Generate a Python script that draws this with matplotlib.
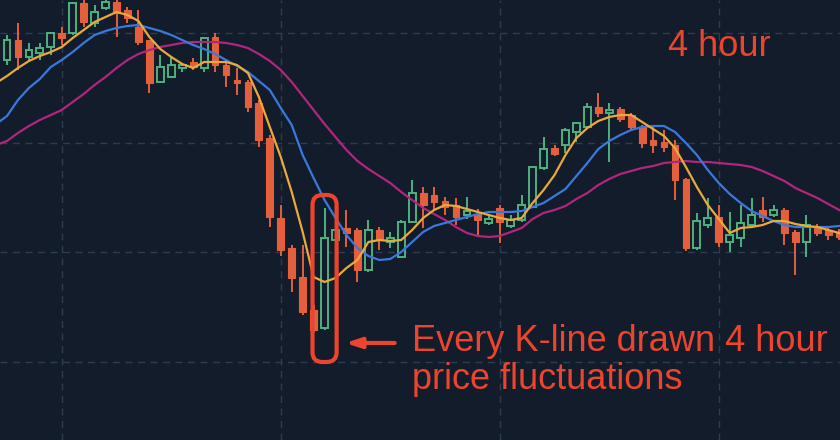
import matplotlib.pyplot as plt
from matplotlib.patches import FancyBboxPatch

# 4 hour candles, oldest first (index -1 is cut off at the left edge)
opens = [435, 440, 460, 443, 447, 453, 467, 467, 497, 477, 492, 498, 490, 473, 460, 418, 423, 432, 438, 432,
         463, 435, 420, 418, 397, 362, 282, 252, 223, 190, 172, 260, 272, 270, 230, 270, 258, 243, 278, 307,
         305, 299, 295, 285, 286, 277, 292, 274, 280, 293, 332, 352, 355, 368, 373, 393, 387, 391, 385, 373,
         360, 358, 355, 321, 252, 275, 283, 258, 262, 275, 290, 285, 290, 268, 258, 273, 270, 268]
closes = [450, 460, 443, 450, 452, 467, 462, 497, 478, 488, 498, 487, 482, 458, 417, 433, 435, 435, 433, 462,
          435, 425, 417, 393, 360, 283, 250, 222, 188, 170, 262, 270, 267, 230, 270, 260, 262, 278, 307, 295,
          298, 293, 283, 289, 280, 281, 278, 280, 295, 333, 351, 346, 370, 377, 393, 387, 390, 381, 373, 357,
          355, 353, 320, 252, 279, 282, 258, 265, 277, 285, 283, 290, 267, 258, 275, 267, 265, 263]
highs = [452, 465, 477, 457, 457, 468, 473, 498, 500, 495, 500, 500, 493, 490, 460, 445, 443, 437, 442, 463,
         467, 437, 432, 420, 400, 365, 295, 255, 255, 195, 292, 275, 290, 272, 280, 273, 268, 280, 320, 313,
         313, 303, 302, 303, 291, 284, 295, 285, 305, 334, 363, 355, 372, 378, 397, 407, 397, 393, 387, 375,
         374, 370, 360, 322, 287, 302, 295, 288, 295, 302, 303, 295, 292, 270, 285, 276, 272, 271]
lows = [432, 435, 430, 438, 440, 445, 455, 465, 473, 473, 490, 463, 477, 455, 407, 417, 422, 428, 430, 428,
        428, 413, 405, 388, 353, 273, 244, 208, 185, 168, 170, 252, 253, 218, 228, 250, 252, 242, 277, 272,
        290, 285, 275, 281, 265, 275, 257, 272, 278, 292, 330, 344, 347, 358, 372, 383, 338, 378, 370, 352,
        347, 348, 300, 249, 250, 272, 253, 248, 253, 272, 278, 283, 255, 225, 243, 264, 260, 260]

# moving averages at each candle
ma_fast = [417, 424, 432, 439, 444, 448, 453, 462, 470, 478, 483, 488, 485, 479, 463, 451, 443, 436, 432, 438,
           438, 438, 435, 427, 403, 373, 343, 308, 268, 223, 218, 222, 232, 240, 258, 260, 259, 260, 270, 282,
           290, 295, 294, 291, 288, 285, 282, 280, 282, 297, 310, 325, 345, 362, 372, 379, 383, 385, 385, 378,
           371, 364, 352, 333, 313, 295, 281, 267, 272, 273, 275, 279, 279, 276, 274, 273, 270, 267]
ma_mid = [376, 384, 400, 412, 421, 433, 440, 448, 457, 465, 469, 472, 474, 475, 472, 469, 465, 460, 455, 451,
          446, 440, 434, 428, 419, 410, 392, 375, 345, 322, 300, 282, 265, 252, 244, 240, 241, 248, 258, 268,
          274, 277, 280, 283, 286, 288, 288, 288, 289, 293, 297, 304, 311, 324, 337, 351, 359, 365, 370, 373,
          374, 374, 368, 357, 345, 330, 317, 306, 297, 289, 284, 279, 275, 273, 273, 273, 273, 274]
ma_slow = [355, 359, 367, 374, 380, 385, 390, 398, 406, 415, 423, 432, 440, 446, 450, 453, 455, 457, 458, 458,
           458, 457, 455, 452, 446, 439, 430, 418, 404, 390, 376, 363, 350, 339, 331, 324, 317, 308, 300, 292,
           286, 280, 273, 267, 264, 263, 264, 268, 272, 281, 287, 290, 294, 301, 307, 315, 321, 326, 329, 332,
           334, 337, 338, 339, 338, 338, 337, 336, 335, 333, 329, 324, 319, 312, 307, 302, 296, 290]

idx = list(range(-1, len(opens) - 1))
marked = 29  # the candle inside the red box

bg = '#131c2b'
up = '#4db27f'
down = '#e4603c'
note = '#ec452d'

fig = plt.figure(figsize=(8.4, 4.4), dpi=100, facecolor=bg)
ax = fig.add_axes([0, 0, 1, 1])
ax.set_facecolor(bg)

for i, o, c, h, l in zip(idx, opens, closes, highs, lows):
    col = up if c >= o else down
    ax.vlines(i, l, h, color=col, linewidth=1.4, zorder=2)
    if c >= o:
        ax.bar(i, c - o, bottom=o, width=0.62, facecolor=bg, edgecolor=col, linewidth=1.4, zorder=3)
    else:
        ax.bar(i, o - c, bottom=c, width=0.62, facecolor=col, edgecolor=col, linewidth=0.8, zorder=3)

ax.plot(idx, ma_slow, color='#b0267e', linewidth=1.6, zorder=4)
ax.plot(idx, ma_mid, color='#3b78dc', linewidth=1.6, zorder=4)
ax.plot(idx, ma_fast, color='#eaa93b', linewidth=1.6, zorder=4)

ax.set_xlim(-0.64, 76.07)
ax.set_ylim(60, 500)
ax.set_xticks([5, 25, 45, 65])
ax.set_yticks([138, 248, 357, 467])
ax.grid(True, color='#2f3b4e', linestyle=(0, (5, 4)), linewidth=1)
ax.tick_params(length=0, labelbottom=False, labelleft=False)
for s in ax.spines.values():
    s.set_visible(False)

# highlight box around one candle, rounding kept round despite the axis aspect
aspect = (440 / (500 - 60)) / (840 / 76.71)
box = FancyBboxPatch((marked - 1.1, 138), 2.2, 167, boxstyle='round,pad=0,rounding_size=0.9',
                     mutation_aspect=1 / aspect, facecolor='none', edgecolor=note, linewidth=3, zorder=6)
ax.add_patch(box)

ax.annotate('', xy=(marked + 1.9, 157), xytext=(marked + 6.4, 157),
            arrowprops=dict(arrowstyle='-|>,head_length=0.9,head_width=0.3', color=note, linewidth=3,
                            shrinkA=0, shrinkB=0), zorder=6)

font = ['Liberation Sans', 'DejaVu Sans']
ax.text(0.49, 0.18, 'Every K-line drawn 4 hour\nprice fluctuations', transform=ax.transAxes,
        color=note, fontsize=26, family=font, va='center', ha='left', linespacing=1.1)
ax.text(0.795, 0.895, '4 hour', transform=ax.transAxes, color=note, fontsize=26, family=font,
        va='center', ha='left')

plt.savefig('out.png', dpi=100, facecolor=bg)
